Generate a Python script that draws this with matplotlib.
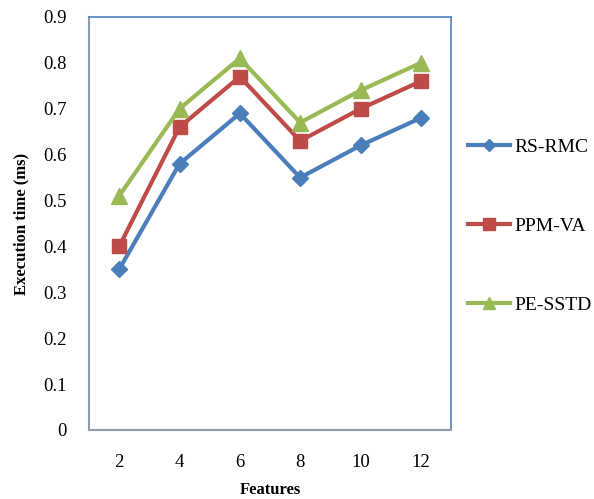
import matplotlib
matplotlib.use("Agg")
import matplotlib.pyplot as plt

features = ["2", "4", "6", "8", "10", "12"]
rs_rmc = [0.35, 0.58, 0.69, 0.55, 0.62, 0.68]
ppm_va = [0.40, 0.66, 0.77, 0.63, 0.70, 0.76]
pe_sstd = [0.51, 0.70, 0.81, 0.67, 0.74, 0.80]
yticks = [0, 0.1, 0.2, 0.3, 0.4, 0.5, 0.6, 0.7, 0.8, 0.9]
ytick_labels = ["0", "0.1", "0.2", "0.3", "0.4", "0.5", "0.6", "0.7", "0.8", "0.9"]

plt.rcParams['font.family'] = ['Liberation Serif', 'DejaVu Serif']

fig = plt.figure(figsize=(5.94, 4.99), dpi=100)
ax = fig.add_axes([89/594, 1 - 430/499, 362/594, 413/499])

x = list(range(len(features)))
ax.plot(x, rs_rmc, color='#4A7EBB', lw=3, marker='D', ms=8, label='RS-RMC')
ax.plot(x, ppm_va, color='#BE4B48', lw=3, marker='s', ms=10, label='PPM-VA')
ax.plot(x, pe_sstd, color='#98B954', lw=3, marker='^', ms=11, label='PE-SSTD')

ax.set_xlim(-0.5, len(features) - 0.5)
ax.set_ylim(0, 0.9)
ax.set_xticks(x)
ax.set_xticklabels(features)
ax.set_yticks(yticks)
ax.set_yticklabels(ytick_labels)
ax.tick_params(axis='both', length=0, labelsize=13.5)
ax.tick_params(axis='x', pad=17)
ax.tick_params(axis='y', pad=16)

for side in ['left', 'bottom']:
    ax.spines[side].set_color('#8E9AA8')
    ax.spines[side].set_linewidth(1.5)
for side in ['top', 'right']:
    ax.spines[side].set_color('#4F81BD')
    ax.spines[side].set_linewidth(1.2)

ax.set_xlabel('Features', fontsize=12, fontweight='bold', labelpad=8)
ax.set_ylabel('Execution time (ms)', fontsize=12, fontweight='bold', labelpad=10)

ax.legend(loc='center left', bbox_to_anchor=(1.005, 0.494), frameon=False,
          fontsize=14, labelspacing=3.17, handlelength=2.15, handletextpad=0.2,
          borderpad=0.3, markerscale=0.8)

fig.savefig('out.png', dpi=100)
